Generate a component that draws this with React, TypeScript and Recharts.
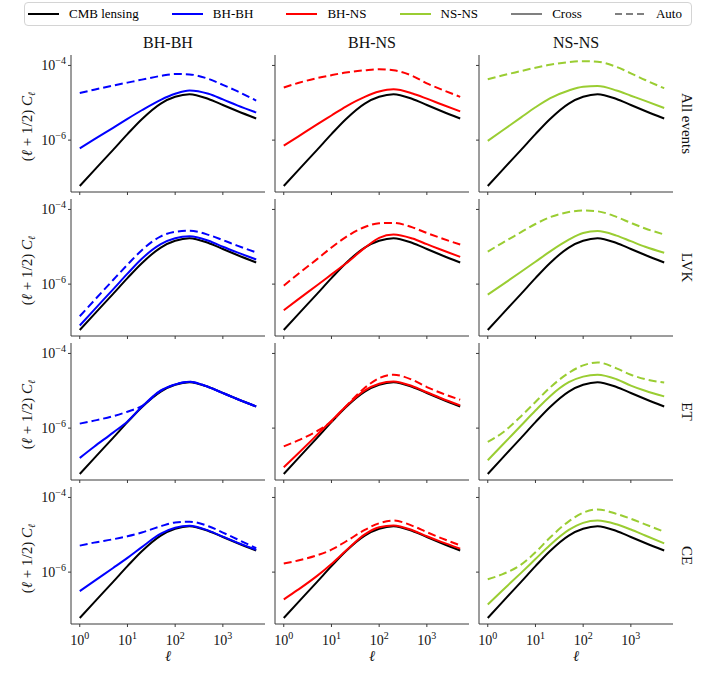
import { LineChart, Line, XAxis, YAxis } from 'recharts'

const ELL = [1, 2, 5, 10, 20, 50, 100, 200, 500, 1000, 2000, 5000]

// log10[(l + 1/2) C_l] at each ELL value
const CMB_LENSING = [-7.23, -6.81, -6.26, -5.84, -5.44, -5.02, -4.84, -4.77, -4.9, -5.06, -5.22, -5.42]

const ALL_BHBH_CROSS = [-6.22, -5.98, -5.67, -5.43, -5.2, -4.92, -4.76, -4.67, -4.76, -4.91, -5.07, -5.26]
const ALL_BHBH_AUTO = [-4.74, -4.65, -4.54, -4.46, -4.38, -4.28, -4.23, -4.24, -4.36, -4.52, -4.69, -4.94]
const ALL_BHNS_CROSS = [-6.15, -5.905, -5.58, -5.34, -5.1, -4.84, -4.7, -4.64, -4.75, -4.89, -5.04, -5.23]
const ALL_BHNS_AUTO = [-4.59, -4.47, -4.34, -4.26, -4.19, -4.13, -4.1, -4.13, -4.28, -4.48, -4.64, -4.84]
const ALL_NSNS_CROSS = [-6.02, -5.75, -5.39, -5.12, -4.88, -4.67, -4.57, -4.55, -4.67, -4.81, -4.95, -5.14]
const ALL_NSNS_AUTO = [-4.37, -4.27, -4.15, -4.06, -3.98, -3.91, -3.885, -3.9, -4.04, -4.21, -4.39, -4.61]

const LVK_BHBH_CROSS = [-7.11, -6.69, -6.14, -5.72, -5.32, -4.93, -4.77, -4.72, -4.84, -5.0, -5.15, -5.34]
const LVK_BHBH_AUTO = [-6.86, -6.44, -5.89, -5.48, -5.09, -4.72, -4.6, -4.57, -4.68, -4.82, -4.97, -5.15]
const LVK_BHNS_CROSS = [-6.7, -6.41, -6.03, -5.74, -5.45, -5.03, -4.76, -4.67, -4.78, -4.93, -5.08, -5.27]
const LVK_BHNS_AUTO = [-6.04, -5.73, -5.33, -5.02, -4.74, -4.47, -4.37, -4.36, -4.48, -4.63, -4.77, -4.94]
const LVK_NSNS_CROSS = [-6.28, -6.02, -5.67, -5.4, -5.13, -4.81, -4.63, -4.58, -4.7, -4.85, -5.0, -5.16]
const LVK_NSNS_AUTO = [-5.13, -4.9, -4.61, -4.39, -4.21, -4.07, -4.03, -4.05, -4.2, -4.36, -4.51, -4.67]

const ET_BHBH_CROSS = [-6.8, -6.5, -6.12, -5.82, -5.43, -4.99, -4.83, -4.76, -4.9, -5.06, -5.22, -5.42]
const ET_BHBH_AUTO = [-5.88, -5.8, -5.68, -5.56, -5.41, -5.0, -4.83, -4.76, -4.9, -5.06, -5.22, -5.42]
const ET_BHNS_CROSS = [-7.05, -6.68, -6.18, -5.8, -5.42, -4.99, -4.81, -4.75, -4.88, -5.04, -5.2, -5.39]
const ET_BHNS_AUTO = [-6.49, -6.33, -6.08, -5.82, -5.42, -4.92, -4.66, -4.57, -4.71, -4.9, -5.06, -5.24]
const ET_NSNS_CROSS = [-6.86, -6.46, -5.93, -5.53, -5.15, -4.77, -4.62, -4.57, -4.69, -4.86, -5.0, -5.15]
const ET_NSNS_AUTO = [-6.37, -6.13, -5.68, -5.3, -4.92, -4.52, -4.32, -4.24, -4.4, -4.57, -4.69, -4.78]

const CE_BHBH_CROSS = [-6.51, -6.24, -5.89, -5.62, -5.33, -4.97, -4.81, -4.76, -4.89, -5.05, -5.21, -5.4]
const CE_BHBH_AUTO = [-5.29, -5.21, -5.12, -5.04, -4.94, -4.77, -4.67, -4.65, -4.77, -4.94, -5.12, -5.36]
const CE_BHNS_CROSS = [-6.73, -6.47, -6.1, -5.78, -5.43, -4.99, -4.8, -4.75, -4.88, -5.04, -5.19, -5.37]
const CE_BHNS_AUTO = [-5.77, -5.69, -5.55, -5.4, -5.18, -4.87, -4.69, -4.62, -4.76, -4.93, -5.09, -5.28]
const CE_NSNS_CROSS = [-6.87, -6.5, -6.02, -5.65, -5.28, -4.87, -4.68, -4.62, -4.72, -4.86, -5.02, -5.23]
const CE_NSNS_AUTO = [-6.19, -6.06, -5.8, -5.47, -5.08, -4.64, -4.41, -4.32, -4.44, -4.57, -4.72, -4.92]

const ROW_NAMES = ['All events', 'LVK', 'ET', 'CE']
const COL_NAMES = ['BH-BH', 'BH-NS', 'NS-NS']
const CROSS = [
  [ALL_BHBH_CROSS, ALL_BHNS_CROSS, ALL_NSNS_CROSS],
  [LVK_BHBH_CROSS, LVK_BHNS_CROSS, LVK_NSNS_CROSS],
  [ET_BHBH_CROSS, ET_BHNS_CROSS, ET_NSNS_CROSS],
  [CE_BHBH_CROSS, CE_BHNS_CROSS, CE_NSNS_CROSS],
]
const AUTO = [
  [ALL_BHBH_AUTO, ALL_BHNS_AUTO, ALL_NSNS_AUTO],
  [LVK_BHBH_AUTO, LVK_BHNS_AUTO, LVK_NSNS_AUTO],
  [ET_BHBH_AUTO, ET_BHNS_AUTO, ET_NSNS_AUTO],
  [CE_BHBH_AUTO, CE_BHNS_AUTO, CE_NSNS_AUTO],
]
const X_TICKS = [1, 10, 100, 1000]
const Y_TICKS = [-6, -4]

const COLORS = ['#0000ff', '#ff0000', '#9acd32']
const FRAME = '#3a3a3a'
const FONT = "'Liberation Serif', 'DejaVu Serif', serif"
const DASH = '8 4'

const COL_LEFT = [71, 275, 479]
const ROW_TOP = [55, 199, 343, 487]
const PLOT_W = 194
const PLOT_H = 137
const Y_AXIS_W = 44
const X_AXIS_H = 30
const X_DOMAIN = [0.655, 7650]
const Y_DOMAIN = [-7.39, -3.72]

function XTick({ x, y, payload, show }: any) {
  if (!show) return <g />
  const exp = Math.round(Math.log10(payload.value))
  return (
    <text x={x} y={y + 17} textAnchor="middle" fontSize={14} fill="#111" fontFamily={FONT}>
      10<tspan dy={-6} fontSize={10}>{exp}</tspan>
    </text>
  )
}

function YTick({ x, y, payload, show }: any) {
  if (!show) return <g />
  return (
    <text x={x - 1} y={y + 5} textAnchor="end" fontSize={14} fill="#111" fontFamily={FONT}>
      10<tspan dy={-6} fontSize={10}>{'\u2212' + Math.abs(payload.value)}</tspan>
    </text>
  )
}

function Panel({ row, col }: { row: number; col: number }) {
  const data = ELL.map((ell, i) => ({
    ell,
    cmb: CMB_LENSING[i],
    cross: CROSS[row][col][i],
    auto: AUTO[row][col][i],
  }))
  const color = COLORS[col]
  const showX = row === ROW_NAMES.length - 1
  const showY = col === 0
  return (
    <div style={{ position: 'absolute', left: COL_LEFT[col] - Y_AXIS_W, top: ROW_TOP[row] - 2 }}>
      <LineChart
        width={Y_AXIS_W + PLOT_W + 2}
        height={2 + PLOT_H + X_AXIS_H}
        data={data}
        margin={{ top: 2, right: 2, bottom: 0, left: 0 }}
      >
        <XAxis
          dataKey="ell"
          type="number"
          scale="log"
          domain={X_DOMAIN}
          allowDataOverflow
          ticks={X_TICKS}
          interval={0}
          height={X_AXIS_H}
          tickSize={3}
          tickMargin={1}
          stroke={FRAME}
          tick={(p: any) => <XTick {...p} show={showX} />}
        />
        <YAxis
          type="number"
          domain={Y_DOMAIN}
          allowDataOverflow
          ticks={Y_TICKS}
          interval={0}
          width={Y_AXIS_W}
          tickSize={3}
          tickMargin={1}
          stroke={FRAME}
          tick={(p: any) => <YTick {...p} show={showY} />}
        />
        {/* top and right spines */}
        <XAxis
          xAxisId="top"
          orientation="top"
          type="number"
          scale="log"
          domain={X_DOMAIN}
          allowDataOverflow
          height={0}
          tick={false}
          tickLine={false}
          stroke={FRAME}
        />
        <YAxis
          yAxisId="right"
          orientation="right"
          type="number"
          domain={Y_DOMAIN}
          allowDataOverflow
          width={0}
          tick={false}
          tickLine={false}
          stroke={FRAME}
        />
        <Line type="monotone" dataKey="cmb" stroke="#000" strokeWidth={2} dot={false} isAnimationActive={false} />
        <Line type="monotone" dataKey="cross" stroke={color} strokeWidth={2} dot={false} isAnimationActive={false} />
        <Line
          type="monotone"
          dataKey="auto"
          stroke={color}
          strokeWidth={2}
          strokeDasharray={DASH}
          dot={false}
          isAnimationActive={false}
        />
      </LineChart>
    </div>
  )
}

const LEGEND = [
  { name: 'CMB lensing', color: '#000', dashed: false },
  { name: 'BH-BH', color: COLORS[0], dashed: false },
  { name: 'BH-NS', color: COLORS[1], dashed: false },
  { name: 'NS-NS', color: COLORS[2], dashed: false },
  { name: 'Cross', color: '#808080', dashed: false },
  { name: 'Auto', color: '#808080', dashed: true },
]

function TopLegend() {
  return (
    <div
      style={{
        position: 'absolute',
        left: 24,
        top: 2,
        width: 668,
        height: 24,
        boxSizing: 'border-box',
        border: '1px solid #d4d4d4',
        borderRadius: 4,
        display: 'flex',
        alignItems: 'center',
        justifyContent: 'space-between',
        paddingLeft: 3,
        paddingRight: 9,
        fontFamily: FONT,
        fontSize: 13,
      }}
    >
      {LEGEND.map((item) => (
        <div key={item.name} style={{ display: 'flex', alignItems: 'center' }}>
          <svg width={31} height={10} style={{ marginRight: 10 }}>
            <line
              x1={0}
              x2={31}
              y1={5}
              y2={5}
              stroke={item.color}
              strokeWidth={2}
              strokeDasharray={item.dashed ? '7 4' : undefined}
            />
          </svg>
          <span>{item.name}</span>
        </div>
      ))}
    </div>
  )
}

export default function App() {
  return (
    <div style={{ position: 'absolute', left: 0, top: 0, width: 708, height: 679, background: '#fff' }}>
      <TopLegend />
      <svg width={708} height={679} style={{ position: 'absolute', left: 0, top: 0 }} fontFamily={FONT} fill="#111">
        {COL_NAMES.map((name, c) => (
          <text key={name} x={COL_LEFT[c] + PLOT_W / 2} y={48} textAnchor="middle" fontSize={16}>
            {name}
          </text>
        ))}
        {ROW_NAMES.map((name, r) => (
          <text
            key={name}
            transform={`translate(682, ${ROW_TOP[r] + PLOT_H / 2}) rotate(90)`}
            textAnchor="middle"
            fontSize={15}
          >
            {name}
          </text>
        ))}
        {ROW_NAMES.map((name, r) => (
          <text
            key={'ylab' + name}
            transform={`translate(32, ${ROW_TOP[r] + PLOT_H / 2 + 3}) rotate(-90)`}
            textAnchor="middle"
            fontSize={15}
          >
            (<tspan fontStyle="italic">ℓ</tspan> + 1/2) <tspan fontStyle="italic">C</tspan>
            <tspan fontStyle="italic" fontSize={10} dy={3}>
              ℓ
            </tspan>
          </text>
        ))}
        {COL_NAMES.map((name, c) => (
          <text key={'xlab' + name} x={COL_LEFT[c] + PLOT_W / 2} y={661} textAnchor="middle" fontSize={15} fontStyle="italic">
            ℓ
          </text>
        ))}
      </svg>
      {ROW_NAMES.map((_, r) => COL_NAMES.map((_, c) => <Panel key={r + '-' + c} row={r} col={c} />))}
    </div>
  )
}
